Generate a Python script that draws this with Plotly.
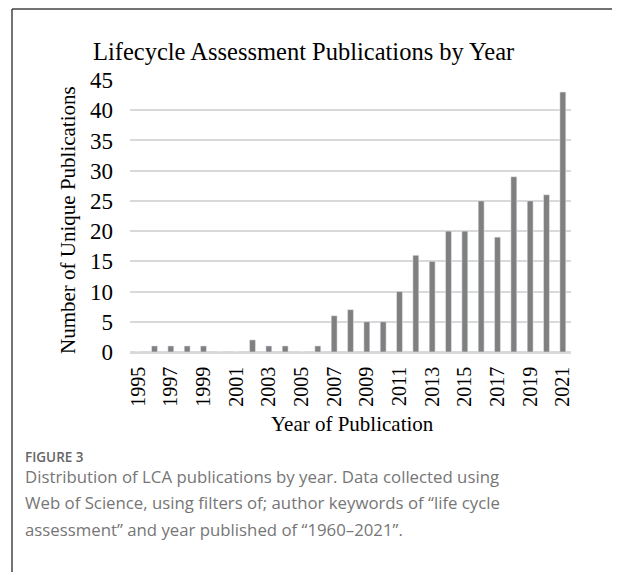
import plotly.graph_objects as go

years = [str(y) for y in range(1995, 2022)]
counts = [0, 1, 1, 1, 1, 0, 0, 2, 1, 1, 0, 1, 6, 7, 5, 5, 10, 16, 15, 20, 20, 25, 19, 29, 25, 26, 43]
tick_years = [str(y) for y in range(1995, 2022, 2)]
y_ticks = list(range(0, 50, 5))

OFF = 8  # page body margin
W, H = 620 - OFF, 572 - OFF
L, R, T, B = 130, 571, 80, 352  # plot area in reference pixels


def px(x):
    return (x - L) / (R - L)


def py(y):
    return (B - y) / (B - T)


fig = go.Figure(go.Bar(x=years, y=counts, marker_color="#808080", width=0.36))

serif = "Liberation Serif, Times New Roman, serif"
cap_font = "Open Sans, Noto Sans, sans-serif"

fig.update_layout(
    width=W, height=H,
    margin=dict(l=L - OFF, r=620 - R, t=T - OFF, b=572 - B, pad=0),
    paper_bgcolor="white", plot_bgcolor="white",
    showlegend=False,
    font=dict(family=serif, color="#000000"),
)
fig.update_xaxes(
    type="category", categoryorder="array", categoryarray=years,
    tickmode="array", tickvals=tick_years, ticktext=tick_years,
    tickangle=-90, tickfont=dict(size=20, family=serif, color="#000"),
    ticks="", showgrid=False, showline=True, linecolor="#d9d9d9", linewidth=1.5,
    ticklabelstandoff=5,
)
fig.update_yaxes(
    range=[0, 45], tickmode="array", tickvals=y_ticks,
    tickfont=dict(size=23, family=serif, color="#000"),
    showgrid=True, gridcolor="#d9d9d9", gridwidth=1.5,
    zeroline=True, zerolinecolor="#d9d9d9", zerolinewidth=1.5,
    showline=False, ticks="", ticklabelstandoff=16,
)

ann = []
ann.append(dict(text="Lifecycle Assessment Publications by Year", x=px(303.5), y=py(52),
                xref="paper", yref="paper", showarrow=False, xanchor="center", yanchor="middle",
                font=dict(size=24.5, family=serif, color="#000")))
ann.append(dict(text="Number of Unique Publications", x=px(68), y=py(220),
                xref="paper", yref="paper", showarrow=False, xanchor="center", yanchor="middle",
                textangle=-90, font=dict(size=21, family=serif, color="#000")))
ann.append(dict(text="Year of Publication", x=px(352), y=py(424),
                xref="paper", yref="paper", showarrow=False, xanchor="center", yanchor="middle",
                font=dict(size=21, family=serif, color="#000")))
ann.append(dict(text="FIGURE 3", x=px(23), y=py(457),
                xref="paper", yref="paper", showarrow=False, xanchor="left", yanchor="middle",
                font=dict(size=13.5, family=cap_font, color="#666666", weight=600)))
caption_lines = [
    "Distribution of LCA publications by year. Data collected using",
    "Web of Science, using filters of; author keywords of \u201clife cycle",
    "assessment\u201d and year published of \u201c1960\u20132021\u201d.",
]
for i, line in enumerate(caption_lines):
    ann.append(dict(text=line, x=px(23), y=py(476 + 26.5 * i),
                    xref="paper", yref="paper", showarrow=False, xanchor="left", yanchor="middle",
                    font=dict(size=16.8, family=cap_font, color="#767676")))
fig.update_layout(annotations=ann)

fig.update_layout(shapes=[
    dict(type="line", xref="paper", yref="paper", x0=px(12), x1=px(12), y0=py(9), y1=py(572),
         line=dict(color="#444444", width=1.5)),
    dict(type="line", xref="paper", yref="paper", x0=px(12), x1=px(620), y0=py(9), y1=py(9),
         line=dict(color="#444444", width=1.5)),
])

fig.write_html("out.html")
